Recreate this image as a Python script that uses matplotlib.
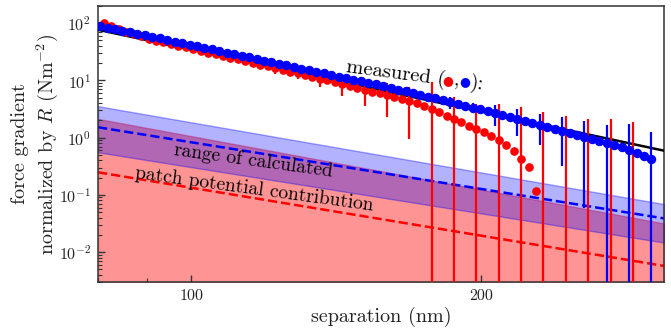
import matplotlib
matplotlib.use("Agg")
import matplotlib.pyplot as plt
from matplotlib.ticker import NullFormatter, FixedLocator, FixedFormatter, LogLocator

plt.rcParams.update({
    "font.family": "serif",
    "font.serif": ["cmr10", "DejaVu Serif"],
    "mathtext.fontset": "cm",
    "axes.formatter.use_mathtext": True,
    "axes.unicode_minus": False,
})

# ---------------- data ----------------
sep_blue = [80.40, 81.85, 83.32, 84.82, 86.35, 87.90, 89.48, 91.09, 92.73, 94.40,
            96.10, 97.83, 99.59, 101.38, 103.20, 105.06, 106.95, 108.87, 110.83, 112.83,
            114.86, 116.93, 119.03, 121.17, 123.35, 125.57, 127.83, 130.13, 132.47, 134.85,
            137.28, 139.75, 142.26, 144.82, 147.43, 150.08, 152.78, 155.53, 158.33, 161.18,
            164.08, 167.03, 170.03, 173.09, 176.20, 179.37, 182.60, 185.89, 189.23, 192.63,
            196.10, 199.63, 203.22, 206.88, 210.60, 214.39, 218.25, 222.18, 226.18, 230.25,
            234.39, 238.61, 242.90, 247.27, 251.72, 256.25, 260.86, 265.55, 270.33, 275.19,
            280.14, 285.18, 290.31, 295.53, 300.85]
blue_val = [87.7, 82.8, 78.0, 73.6, 69.3, 65.9, 61.8, 57.9, 54.4, 51.0,
            47.9, 44.9, 42.1, 39.5, 37.0, 34.8, 32.6, 30.6, 28.7, 26.9,
            25.2, 23.7, 22.2, 20.8, 19.5, 18.3, 17.2, 16.1, 15.1, 14.2,
            13.3, 12.5, 11.7, 11.0, 10.3, 9.66, 9.06, 8.50, 7.97, 7.44,
            6.93, 6.46, 6.02, 5.61, 5.21, 4.84, 4.50, 4.18, 3.89, 3.61,
            3.36, 3.12, 2.90, 2.70, 2.50, 2.32, 2.15, 1.99, 1.84, 1.69,
            1.55, 1.42, 1.30, 1.19, 1.10, 1.01, 0.940, 0.871, 0.809, 0.755,
            0.679, 0.601, 0.532, 0.477, 0.420]
blue_err = [0, 0, 1.5, 0, 0, 1.3, 0, 0, 1.2, 0,
            0, 1.0, 0, 0, 0.9, 0, 0, 0.9, 0, 0,
            0.8, 0, 0, 0.8, 0, 0, 0.7, 0, 0, 0.7,
            0, 0, 0.7, 0, 0, 0.6, 0, 0, 0.6, 0,
            0, 0.7, 0, 0, 0.76, 0, 0, 1.0, 0, 0,
            0.7, 0, 0, 1.08, 0, 0, 1.07, 0, 0, 0.94,
            0, 0, 0.98, 0, 0, 0.95, 0, 0, 0.86, 0,
            0, 1.14, 0, 0, 0.85]

sep_red = [81.12, 82.58, 84.07, 85.58, 87.12, 88.69, 90.28, 91.91, 93.56, 95.25,
           96.96, 98.71, 100.48, 102.29, 104.12, 106.00, 107.91, 109.85, 111.82, 113.84,
           115.89, 117.98, 120.10, 122.26, 124.46, 126.70, 128.98, 131.30, 133.66, 136.06,
           138.51, 141.00, 143.53, 146.12, 148.75, 151.42, 154.15, 156.92, 159.75, 162.62,
           165.55, 168.53, 171.55, 174.64, 177.78, 180.98, 184.24, 187.56, 190.93, 194.36,
           197.86, 201.42, 205.04, 208.73, 212.49, 216.31, 220.21, 224.17, 228.21, 232.31,
           236.49, 240.75, 245.08, 249.49, 253.98, 258.55, 263.20, 267.94, 272.76, 277.67,
           282.66, 287.75]
red_val = [100.9, 89.2, 78.7, 70.9, 63.9, 58.7, 54.0, 49.6, 46.3, 43.2,
           40.4, 37.7, 35.2, 32.9, 30.7, 28.6, 26.7, 25.0, 23.3, 21.8,
           20.3, 18.9, 17.6, 16.4, 15.3, 14.3, 13.3, 12.4, 11.5, 10.7,
           10.0, 9.32, 8.70, 8.03, 7.41, 6.84, 6.38, 5.96, 5.58, 5.17,
           4.77, 4.37, 3.98, 3.55, 3.14, 2.76, 2.42, 2.12, 1.85, 1.61,
           1.41, 1.25, 1.09, 0.897, 0.731, 0.579, 0.421, 0.304, 0.117, -0.05,
           -0.05, -0.05, -0.05, -0.05, -0.05, -0.05, -0.05, -0.05, -0.05, -0.05,
           -0.05, -0.05]
red_err = [0, 0, 2.0, 0, 0, 2.0, 0, 0, 1.8, 0,
           0, 1.8, 0, 0, 1.8, 0, 0, 2.0, 0, 0,
           2.3, 0, 0, 3.35, 0, 0, 2.64, 0, 0, 3.07,
           0, 0, 3.26, 0, 0, 3.21, 0, 0, 3.30, 0,
           0, 3.42, 0, 0, 6.3, 0, 0, 2.98, 0, 0,
           2.48, 0, 0, 2.99, 0, 0, 2.99, 0, 0, 2.83,
           0, 0, 2.48, 0, 0, 2.18, 0, 0, 2.18, 0,
           0, 1.96]

# fit and calculated ranges (end points at the axis limits)
sep_range = [80, 310]
fit_val = [76.9, 0.592]
blue_band_hi = [3.55, 0.069]
blue_band_lo = [0.555, 0.0147]
blue_calc = [1.52, 0.0388]
red_band_hi = [2.13, 0.0317]
red_band_lo = [1e-4, 1e-4]
red_calc = [0.248, 0.00573]

xticks = [100, 200]
xticklabels = ["100", "200"]

# ---------------- figure ----------------
W, H = 671, 333
fig = plt.figure(figsize=(W / 100, H / 100), dpi=100)
ax = fig.add_axes([98 / W, 1 - 282 / H, (664 - 98) / W, (282 - 6) / H])
ax.set_xscale("log")
ax.set_yscale("log")

ax.fill_between(sep_range, red_band_lo, red_band_hi, facecolor=(1, 0, 0, 0.42),
                edgecolor=(1, 0, 0, 0.35), lw=1.0, zorder=1)
ax.fill_between(sep_range, blue_band_lo, blue_band_hi, facecolor=(0, 0, 1, 0.3),
                edgecolor=(0, 0, 1, 0.35), lw=1.0, zorder=1.1)
ax.plot(sep_range, red_calc, ls="--", color="red", lw=1.8, zorder=2)
ax.plot(sep_range, blue_calc, ls="--", color="blue", lw=1.8, zorder=2)

ax.plot(sep_range, fit_val, color="black", lw=1.8, zorder=3)

ax.errorbar(sep_red, red_val, yerr=red_err, fmt="o", color="red", ms=5.2,
            elinewidth=1.6, capsize=0, zorder=4)
ax.errorbar(sep_blue, blue_val, yerr=blue_err, fmt="o", color="blue", ms=5.8,
            elinewidth=1.6, capsize=0, zorder=5)

ax.set_xlim(80, 310)
ax.set_ylim(3e-3, 2e2)

ax.xaxis.set_major_locator(FixedLocator(xticks))
ax.xaxis.set_major_formatter(FixedFormatter(xticklabels))
ax.xaxis.set_minor_locator(LogLocator(base=10, subs=(2, 3, 4, 5, 6, 7, 8, 9)))
ax.xaxis.set_minor_formatter(NullFormatter())
ax.yaxis.set_minor_formatter(NullFormatter())

axcol = "#333333"
for s in ax.spines.values():
    s.set_color(axcol)
    s.set_linewidth(1.1)
ax.tick_params(which="both", direction="in", colors=axcol, labelcolor="#222222",
               top=False, right=False)
ax.tick_params(which="major", length=5, width=1.0, labelsize=11.5, pad=5)
ax.tick_params(which="minor", length=3, width=0.8)

ax.set_xlabel("separation (nm)", fontsize=14.5, color="#222222", labelpad=3)
ax.set_ylabel("force gradient\nnormalized by $R$ (Nm$^{-2}$)", fontsize=14.5,
              color="#222222", labelpad=-1, linespacing=1.3)

def fx(px):
    return px / W

def fy(py):
    return 1 - py / H

rot = -7.5
fig.text(fx(346), fy(72), "measured (", fontsize=14.8, rotation=rot,
         rotation_mode="anchor", ha="left", va="baseline", color="black")
fig.text(fx(447.5), fy(80.5), "\u25CF", fontsize=9, family="DejaVu Sans",
         color="red", ha="center", va="center")
fig.text(fx(455.5), fy(85.5), ",", fontsize=14.8, rotation=rot,
         rotation_mode="anchor", ha="center", va="baseline", color="black")
fig.text(fx(464.3), fy(81.7), "\u25CF", fontsize=9, family="DejaVu Sans",
         color="blue", ha="center", va="center")
fig.text(fx(469), fy(88), "):", fontsize=14.8, rotation=rot,
         rotation_mode="anchor", ha="left", va="baseline", color="black")

fig.text(fx(253.5), fy(161), "range of calculated", fontsize=14, rotation=-7.8,
         rotation_mode="anchor", ha="center", va="center", color="black")
fig.text(fx(254), fy(189), "patch potential contribution", fontsize=14, rotation=-7.8,
         rotation_mode="anchor", ha="center", va="center", color="black")

fig.savefig("out.png", dpi=100)
